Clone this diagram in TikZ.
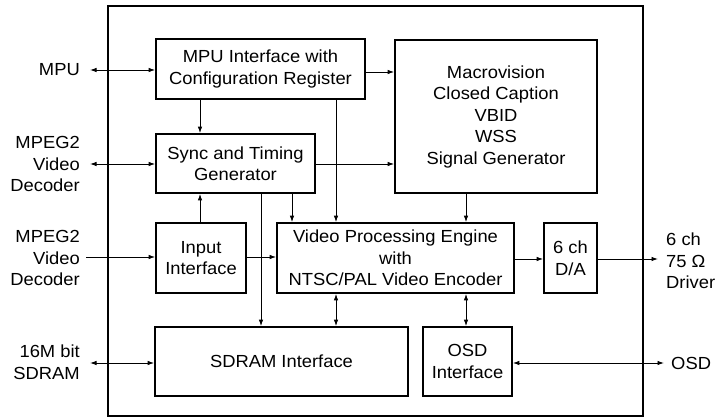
\documentclass[tikz,border=0pt]{standalone}
\usepackage{fontspec}
\setmainfont{Liberation Sans}[FakeStretch=1.05]
\usetikzlibrary{arrows.meta}
\begin{document}
\begin{tikzpicture}[x=1pt,y=-1pt,
  txt/.style={font=\fontsize{17.5}{21.5}\selectfont},
  box/.style={draw, line width=1.7pt, inner sep=0pt, align=center, txt},
  conn/.style={line width=0.9pt},
  tip/.style={conn,-{Latex[length=6.5pt,width=4.5pt]}},
  dtip/.style={conn,{Latex[length=6.5pt,width=4.5pt]}-{Latex[length=6.5pt,width=4.5pt]}},
  lbl/.style={txt, inner sep=0pt}]
\useasboundingbox (0,0) rectangle (720,419);
% outer chip
\draw[line width=1.8pt] (108,6) rectangle (643,416);
% blocks
\node[box, minimum width=209pt, minimum height=60pt] (mpu) at (260.5,69) {MPU Interface with\\Configuration Register};
\node[box, minimum width=159pt, minimum height=59pt] (sync) at (235.5,163.5) {Sync and Timing\\Generator};
\node[box, minimum width=202pt, minimum height=153pt] (macro) at (496,116.5) {Macrovision\\Closed Caption\\VBID\\WSS\\Signal Generator};
\node[box, minimum width=90pt, minimum height=70pt] (input) at (201,258) {Input\\Interface};
\node[box, minimum width=237pt, minimum height=70pt] (vpe) at (395.5,258) {Video Processing Engine\\with\\NTSC/PAL Video Encoder};
\node[box, minimum width=53pt, minimum height=70pt] (da) at (570.5,258) {6 ch\\D/A};
\node[box, minimum width=253pt, minimum height=69pt] (sdram) at (281.5,361.5) {SDRAM Interface};
\node[box, minimum width=89pt, minimum height=69pt] (osd) at (467.5,361.5) {OSD\\Interface};
% external labels
\node[lbl, anchor=east, align=right] (lmpu) at (80,70) {MPU};
\node[lbl, anchor=east, align=right] (ldec1) at (80,164) {MPEG2\\Video\\Decoder};
\node[lbl, anchor=east, align=right] (ldec2) at (80,258) {MPEG2\\Video\\Decoder};
\node[lbl, anchor=east, align=right] (lsd) at (80,362) {16M bit\\SDRAM};
\node[lbl, anchor=west, align=left] (ldrv) at (666,261) {6 ch\\75 Ω\\Driver};
\node[lbl, anchor=west, align=left] (losd) at (671,363) {OSD};
\coordinate (cmpu) at (90,70);
\coordinate (cdec1) at (90,164);
\coordinate (cdec2) at (86,257);
\coordinate (csd) at (90,363);
\coordinate (cdrv) at (658,259);
\coordinate (cosd) at (664,363);
% external connectors
\draw[dtip] (cmpu) -- (cmpu -| mpu.west);
\draw[dtip] (cdec1) -- (cdec1 -| sync.west);
\draw[tip] (cdec2) -- (cdec2 -| input.west);
\draw[dtip] (csd) -- (csd -| sdram.west);
\draw[tip] (da.east |- cdrv) -- (cdrv);
\draw[dtip] (osd.east |- cosd) -- (cosd);
% internal connectors
\draw[tip] (mpu.south -| 200,0) -- (sync.north -| 200,0);
\draw[tip] (mpu.east |- 0,72) -- (macro.west |- 0,72);
\draw[tip] (mpu.south -| 336,0) -- (vpe.north -| 336,0);
\draw[tip] (sync.east |- 0,164) -- (macro.west |- 0,164);
\draw[tip] (sync.south -| 261,0) -- (sdram.north -| 261,0);
\draw[tip] (sync.south -| 292,0) -- (vpe.north -| 292,0);
\draw[tip] (input.north -| 200,0) -- (sync.south -| 200,0);
\draw[tip] (input.east |- 0,257) -- (vpe.west |- 0,257);
\draw[tip] (macro.south -| 466,0) -- (vpe.north -| 466,0);
\draw[tip] (vpe.east |- 0,259) -- (da.west |- 0,259);
\draw[dtip] (vpe.south -| 336,0) -- (sdram.north -| 336,0);
\draw[dtip] (vpe.south -| 466,0) -- (osd.north -| 466,0);
\end{tikzpicture}
\end{document}
